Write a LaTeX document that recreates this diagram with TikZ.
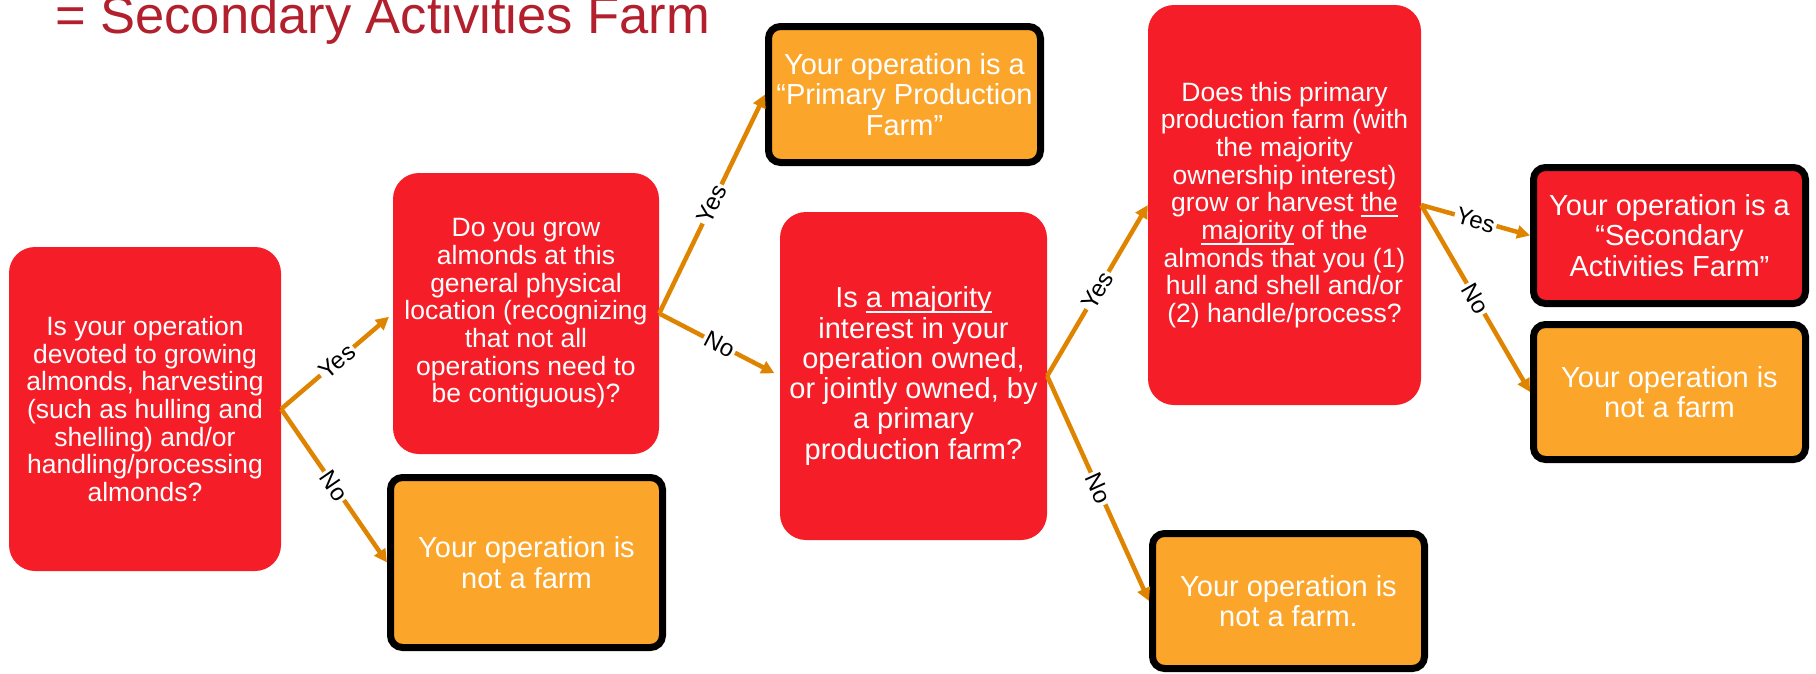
\documentclass[tikz,border=0pt]{standalone}
\usepackage{fontspec}
\setmainfont{Liberation Sans}
\usetikzlibrary{arrows.meta}
\definecolor{qred}{HTML}{F51E28}
\definecolor{resor}{HTML}{FBA52A}
\definecolor{arrc}{HTML}{DF8400}
\definecolor{titlec}{HTML}{B3202D}
\newcommand\myul[1]{\begingroup\setbox0=\hbox{#1}\rlap{\rule[-0.19em]{\wd0}{0.07em}}\box0\endgroup}
\tikzset{
  qbox/.style={fill=qred, rounded corners=26pt, inner sep=0pt, text=white, align=center,
    font=\fontsize{26.5}{27.7}\selectfont},
  qboxbig/.style={qbox, font=\fontsize{29}{30.3}\selectfont},
  resbox/.style={draw=black, fill=resor, line width=7pt, rounded corners=12pt, inner sep=0pt,
    text=white, align=center, font=\fontsize{29}{30.3}\selectfont,
    minimum width=272pt, minimum height=136pt},
  arr/.style={draw=arrc, line width=4.5pt, -{Triangle[length=13pt,width=13pt]}},
  lab/.style={sloped, fill=white, inner sep=2pt, text=black, font=\fontsize{24}{26}\selectfont},
}
\begin{document}
\begin{tikzpicture}[x=1pt, y=-1pt]
\useasboundingbox (0,0) rectangle (1816,673);

\node[anchor=base west, inner sep=0pt, text=titlec, font=\fontsize{52.5}{60}\selectfont] (title) at (55,33) {= Secondary Activities Farm};

\node[qbox, minimum width=272pt, minimum height=324pt] (A) at (145,409)
  {Is your operation\\devoted to growing\\almonds, harvesting\\(such as hulling and\\shelling) and/or\\handling/processing\\almonds?};
\node[qbox, minimum width=266pt, minimum height=281pt] (B) at (526,313.5)
  {Do you grow\\almonds at this\\general physical\\location (recognizing\\that not all\\operations need to\\be contiguous)?};
\node[qboxbig, minimum width=267pt, minimum height=328pt] (C) at (913.5,376)
  {Is \myul{a majority}\\interest in your\\operation owned,\\or jointly owned, by\\a primary\\production farm?};
\node[qbox, minimum width=273pt, minimum height=400pt] (D) at (1284.5,205)
  {Does this primary\\production farm (with\\the majority\\ownership interest)\\grow or harvest \myul{the}\\\myul{majority} of the\\almonds that you (1)\\hull and shell and/or\\(2) handle/process?};

\node[resbox] (P) at (904.5,94.5) {Your operation is a\\“Primary Production\\Farm”};
\node[resbox, minimum height=170pt] (N1) at (526.5,562.5) {Your operation is\\not a farm};
\node[resbox, minimum height=135pt] (N2) at (1288.5,601) {Your operation is\\not a farm.};
\node[resbox, fill=qred] (S) at (1669.5,235.5) {Your operation is a\\“Secondary\\Activities Farm”};
\node[resbox, minimum height=135pt] (N3) at (1669.5,392) {Your operation is\\not a farm};

\draw[arr, shorten >=5pt] (A.east) -- node[lab]{Yes} (B.west);
\draw[arr] (A.east) -- node[lab]{No} (N1.west);
\draw[arr] (B.east) -- node[lab]{Yes} (P.west);
\draw[arr, shorten >=6pt] (B.east) -- node[lab]{No} (C.west);
\draw[arr] (C.east) -- node[lab]{Yes} (D.west);
\draw[arr] (C.east) -- node[lab]{No} (N2.west);
\draw[arr] (D.east) -- node[lab]{Yes} (S.west);
\draw[arr] (D.east) -- node[lab]{No} (N3.west);
\end{tikzpicture}
\end{document}
